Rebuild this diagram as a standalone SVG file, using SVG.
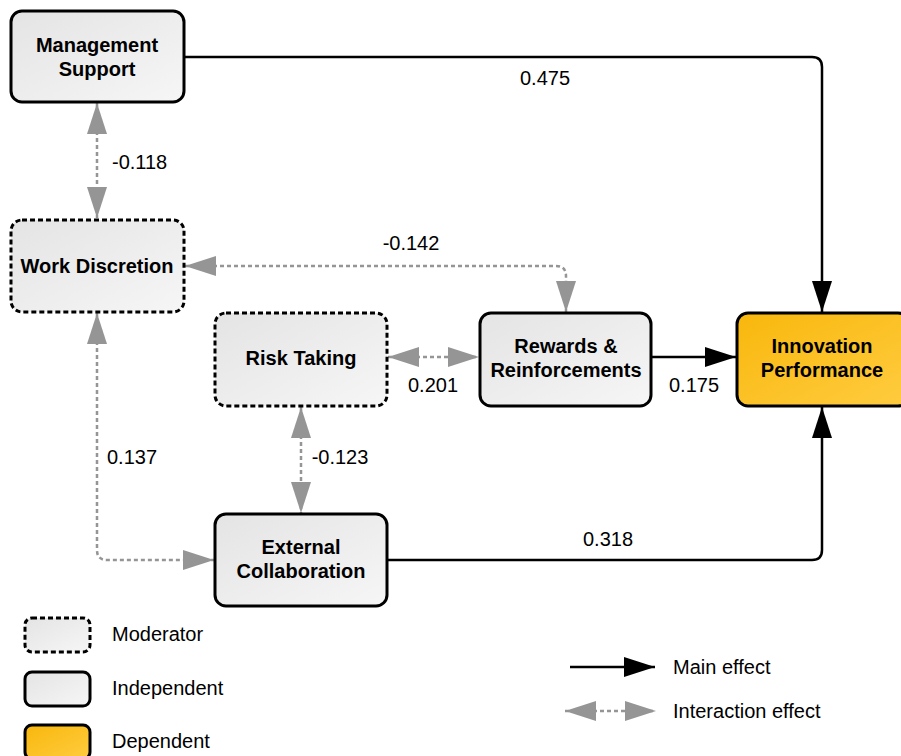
<svg xmlns="http://www.w3.org/2000/svg" width="901" height="756" viewBox="0 0 901 756">
<defs>
<linearGradient id="gGray" x1="0" y1="0" x2="1" y2="1">
<stop offset="0" stop-color="#e4e4e4"/>
<stop offset="1" stop-color="#f6f6f6"/>
</linearGradient>
<linearGradient id="gOrange" x1="0" y1="0" x2="1" y2="1">
<stop offset="0" stop-color="#f8b70c"/>
<stop offset="1" stop-color="#ffcc40"/>
</linearGradient>
<marker id="mBlack" markerUnits="userSpaceOnUse" markerWidth="32" markerHeight="22" viewBox="0 0 32 22" refX="31" refY="11" orient="auto-start-reverse">
<path d="M0,1 L31,11 L0,21 z" fill="#000"/>
</marker>
<marker id="mGray" markerUnits="userSpaceOnUse" markerWidth="32" markerHeight="22" viewBox="0 0 32 22" refX="31" refY="11" orient="auto-start-reverse">
<path d="M0,1 L31,11 L0,21 z" fill="#959595"/>
</marker>
<style>
.box{fill:url(#gGray);stroke:#000;stroke-width:3}
.mod{stroke-dasharray:5 3}
.dep{fill:url(#gOrange);stroke:#000;stroke-width:3}
.nl{font-family:"Liberation Sans",Arial,sans-serif;font-size:20px;font-weight:bold;text-anchor:middle;fill:#000}
.el{font-family:"Liberation Sans",Arial,sans-serif;font-size:20px;fill:#000}
.main{fill:none;stroke:#000;stroke-width:2.5;marker-end:url(#mBlack)}
.inter{fill:none;stroke:#959595;stroke-width:2.5;stroke-dasharray:4 3;marker-start:url(#mGray);marker-end:url(#mGray)}
</style>
</defs>
<rect width="901" height="756" fill="#fff"/>
<g id="connectors">
<path class="main" d="M184,57 H812 Q822,57 822,67 V312"/>
<path class="main" d="M651,357 H736"/>
<path class="main" d="M387,560 H812 Q822,560 822,550 V407"/>
<path class="inter" d="M97,103 V218"/>
<path class="inter" d="M185,266 H556 Q566,266 566,276 V312"/>
<path class="inter" d="M388,357 H479"/>
<path class="inter" d="M301,407 V513"/>
<path class="inter" d="M97,313 V550 Q97,560 107,560 H214"/>
</g>
<g id="edge-labels">
<text class="el" x="545" y="85" text-anchor="middle">0.475</text>
<text class="el" x="112" y="169">-0.118</text>
<text class="el" x="411" y="250" text-anchor="middle">-0.142</text>
<text class="el" x="433" y="392" text-anchor="middle">0.201</text>
<text class="el" x="694" y="392" text-anchor="middle">0.175</text>
<text class="el" x="340" y="464" text-anchor="middle">-0.123</text>
<text class="el" x="132" y="464" text-anchor="middle">0.137</text>
<text class="el" x="608" y="546" text-anchor="middle">0.318</text>
</g>
<g id="management-support">
<rect class="box" x="11" y="11" width="173" height="91" rx="11"/>
<text class="nl" x="97" y="52">Management</text>
<text class="nl" x="97" y="76">Support</text>
</g>
<g id="work-discretion">
<rect class="box mod" x="11" y="220" width="173" height="92" rx="11"/>
<text class="nl" x="97" y="273">Work Discretion</text>
</g>
<g id="risk-taking">
<rect class="box mod" x="215" y="313" width="172" height="93" rx="11"/>
<text class="nl" x="301" y="365">Risk Taking</text>
</g>
<g id="rewards">
<rect class="box" x="480" y="313" width="171" height="93" rx="11"/>
<text class="nl" x="566" y="353">Rewards &amp;</text>
<text class="nl" x="566" y="377">Reinforcements</text>
</g>
<g id="innovation-performance">
<rect class="dep" x="737" y="313" width="172" height="93" rx="11"/>
<text class="nl" x="822" y="353">Innovation</text>
<text class="nl" x="822" y="377">Performance</text>
</g>
<g id="external-collaboration">
<rect class="box" x="215" y="514" width="172" height="92" rx="11"/>
<text class="nl" x="301" y="554">External</text>
<text class="nl" x="301" y="578">Collaboration</text>
</g>
<g id="legend">
<rect class="box mod" x="25" y="618" width="65" height="34" rx="7"/>
<text class="el" x="112" y="641">Moderator</text>
<rect class="box" x="25" y="672" width="65" height="34" rx="7"/>
<text class="el" x="112" y="695">Independent</text>
<rect class="dep" x="25" y="725" width="65" height="34" rx="7" style="fill:url(#gOrange)"/>
<text class="el" x="112" y="748">Dependent</text>
<path class="main" d="M570,667 H655"/>
<text class="el" x="673" y="674">Main effect</text>
<path class="inter" d="M565,711 H656"/>
<text class="el" x="673" y="718">Interaction effect</text>
</g>
</svg>
